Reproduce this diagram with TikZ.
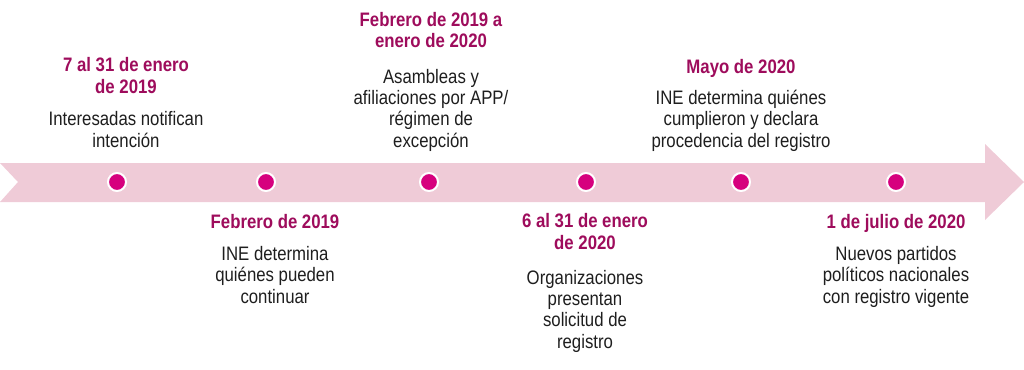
\documentclass[tikz,border=0pt]{standalone}
\usepackage{fontspec}
\setmainfont{Liberation Sans}[FakeStretch=0.86]
\usepackage{tikz}
\usetikzlibrary{positioning}
\definecolor{BandPink}{RGB}{239,203,215}
\definecolor{DotMagenta}{RGB}{214,0,126}
\definecolor{TitleWine}{RGB}{158,12,92}
\definecolor{BodyInk}{RGB}{30,30,30}
\tikzset{
  hito/.style={circle, fill=DotMagenta, draw=white, line width=2pt, minimum size=18pt, inner sep=0pt},
  fecha/.style={font=\fontsize{19.5}{21.3}\selectfont\bfseries, text=TitleWine, align=center, inner sep=0pt, anchor=base},
  texto/.style={font=\fontsize{19.5}{21.3}\selectfont, text=BodyInk, align=center, inner sep=0pt, anchor=base},
}

\begin{document}
\begin{tikzpicture}[x=1pt, y=-1pt]
  \useasboundingbox (0,0) rectangle (1024,369);
  % the band with its arrow head
  \fill[BandPink] (0,163) -- (985,163) -- (985,144) -- (1024,182) -- (985,220) -- (985,202)
    -- (0,202) -- (18,182) -- cycle;
  \foreach \k/\x in {1/117, 2/266, 3/429, 4/586, 5/741, 6/896}
    \node[hito] (d\k) at (\x,182) {};
  % above the band (base = last line)
  \node[fecha] (f1) at (126,93) {7 al 31 de enero\\de 2019};
  \node[texto] (t1) at (126,147) {Interesadas notifican\\intención};
  \node[fecha] (f3) at (431,48) {Febrero de 2019 a\\enero de 2020};
  \node[texto] (t3) at (431,147) {Asambleas y\\afiliaciones por APP/\\régimen de\\excepción};
  \node[fecha] (f5) at (741,73) {Mayo de 2020};
  \node[texto] (t5) at (741,147) {INE determina quiénes\\cumplieron y declara\\procedencia del registro};
  % below the band
  \node[fecha] (f2) at (275,228) {Febrero de 2019};
  \node[texto] (t2) at (275,303) {INE determina\\quiénes pueden\\continuar};
  \node[fecha] (f4) at (585,249) {6 al 31 de enero\\de 2020};
  \node[texto] (t4) at (585,348) {Organizaciones\\presentan\\solicitud de\\registro};
  \node[fecha] (f6) at (896,228) {1 de julio de 2020};
  \node[texto] (t6) at (896,303) {Nuevos partidos\\políticos nacionales\\con registro vigente};
\end{tikzpicture}
\end{document}
